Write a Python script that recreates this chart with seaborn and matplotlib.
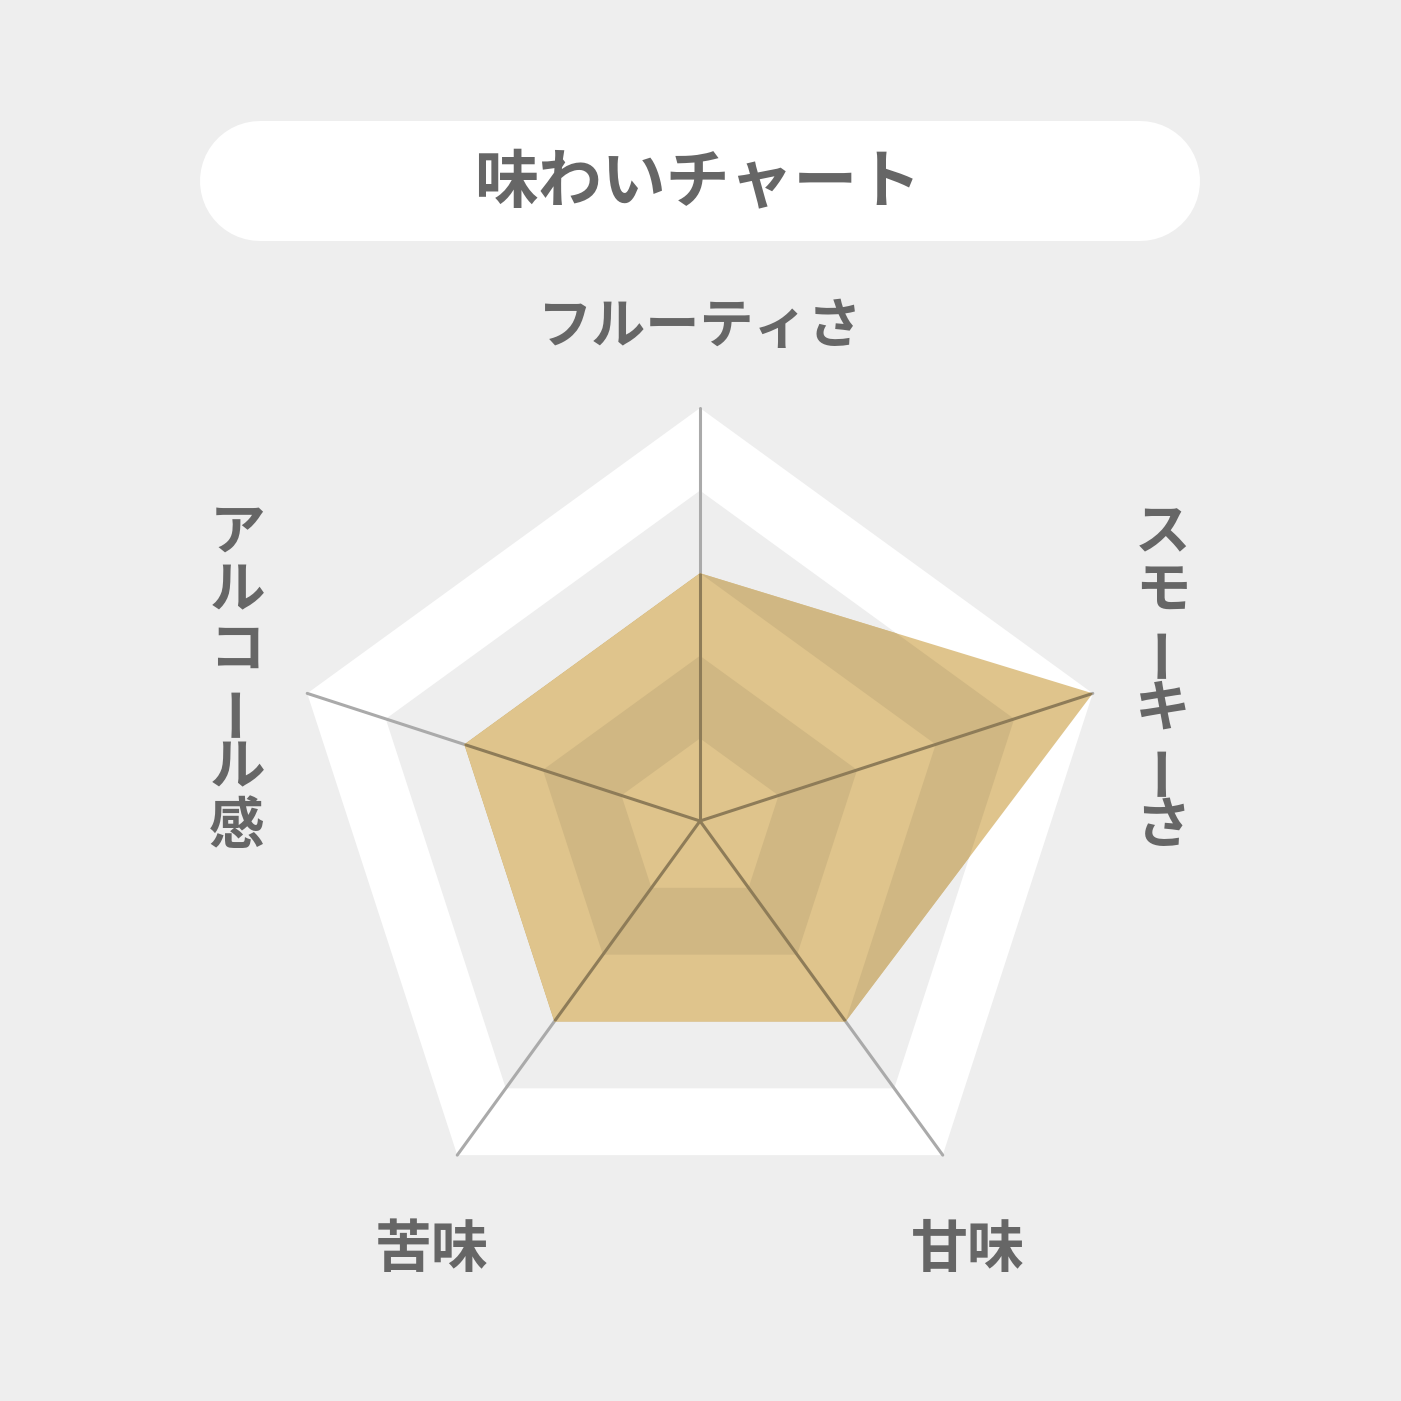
import numpy as np
import pandas as pd
import matplotlib
matplotlib.use("Agg")
import matplotlib.pyplot as plt
from matplotlib.lines import Line2D
import seaborn as sns

# data
title = "味わいチャート"
categories = ["フルーティさ", "スモーキーさ", "甘味", "苦味", "アルコール感"]
values = [3, 5, 3, 3, 3]
levels = [5, 4, 3, 2, 1]
max_level = 5

BG = "#eeeeee"
TEXT = "#666666"
GOLD = "#dfc48c"
GOLD_DARK = "#d0b783"
SPOKE = "#aaaaaa"
SPOKE_DARK = "#8e7c58"

sns.set_theme(style="white")
plt.rcParams["font.family"] = ["Noto Sans CJK JP", "DejaVu Sans"]

W = 1401
fig = plt.figure(figsize=(W / 100, W / 100), dpi=100, facecolor=BG)

# title pill: thick line with round caps (120 px tall, 200..1200 px wide)
pill = Line2D([260 / W, 1140 / W], [1 - 181 / W, 1 - 181 / W],
              transform=fig.transFigure, color="white", lw=120 * 0.72,
              solid_capstyle="round")
fig.add_artist(pill)
fig.text(698 / W, 1 - 183 / W, title, ha="center", va="center",
         fontsize=46, fontweight="bold", color=TEXT)

# radar axes: centre (700, 821) px, outer radius 413 px
cx, cy, R = 700, 821, 413
ax = fig.add_axes([(cx - R) / W, (W - cy - R) / W, 2 * R / W, 2 * R / W],
                  projection="polar")
ax.set_theta_offset(np.pi / 2)
ax.set_theta_direction(-1)
ax.set_ylim(0, max_level)
ax.set_facecolor("none")
ax.grid(False)
ax.spines["polar"].set_visible(False)
ax.set_xticks([])
ax.set_yticks([])

n = len(categories)
angles = np.linspace(0, 2 * np.pi, n, endpoint=False)
closed = np.append(angles, angles[0])

# background bands
for lv in levels:
    ax.fill(closed, [lv] * (n + 1), color="white" if lv % 2 else BG,
            lw=0, clip_on=False, zorder=1)

spokes = pd.DataFrame({
    "theta": np.repeat(angles, 2),
    "r": [0, max_level] * n,
    "axis": np.repeat(categories, 2),
})
sns.lineplot(data=spokes, x="theta", y="r", units="axis", estimator=None,
             sort=False, color=SPOKE, lw=2.2, ax=ax, zorder=2)
for ln in ax.lines:
    ln.set_clip_on(False)

# data polygon
vals = values + values[:1]
poly = ax.fill(closed, vals, color=GOLD, lw=0, zorder=3, clip_on=False)[0]

# bands seen through the polygon
for lv in levels[1:]:
    p = ax.fill(closed, [lv] * (n + 1), color=GOLD if lv % 2 else GOLD_DARK,
                lw=0, zorder=4)[0]
    p.set_clip_path(poly)

before = len(ax.lines)
sns.lineplot(data=spokes, x="theta", y="r", units="axis", estimator=None,
             sort=False, color=SPOKE_DARK, lw=2.2, ax=ax, zorder=5)
for ln in ax.lines[before:]:
    ln.set_clip_path(poly)
ax.set_xlabel("")
ax.set_ylabel("")
ax.set_ylim(0, max_level)


def vertical_label(text, x, y_top, pitch, size):
    for i, ch in enumerate(text):
        rot = 90 if ch == "ー" else 0
        fig.text(x / W, 1 - (y_top + i * pitch) / W, ch, ha="center",
                 va="center", fontsize=size, fontweight="bold", color=TEXT,
                 rotation=rot, rotation_mode="anchor")


fig.text(700 / W, 1 - 327 / W, categories[0], ha="center", va="center",
         fontsize=39, fontweight="bold", color=TEXT)
vertical_label(categories[1], 1163, 533, 58.8, 40)
fig.text(968 / W, 1 - 1250 / W, categories[2], ha="center", va="center",
         fontsize=41, fontweight="bold", color=TEXT)
fig.text(432 / W, 1 - 1250 / W, categories[3], ha="center", va="center",
         fontsize=41, fontweight="bold", color=TEXT)
vertical_label(categories[4], 237, 533, 58.8, 40)

fig.savefig("out.png", dpi=100, facecolor=BG)
